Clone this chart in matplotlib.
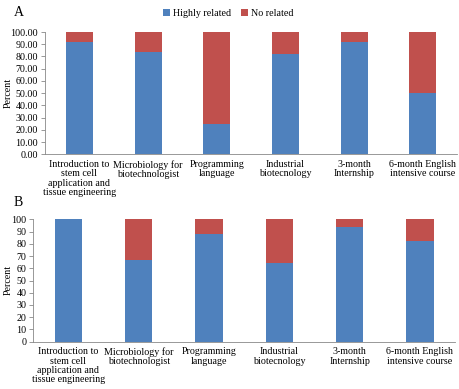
import numpy as np
import matplotlib
matplotlib.use('Agg')
import matplotlib.pyplot as plt

plt.rcParams['font.family'] = ['Liberation Serif', 'DejaVu Serif']

categories = ['Introduction to\nstem cell\napplication and\ntissue engineering',
              'Microbiology for\nbiotechnologist',
              'Programming\nlanguage',
              'Industrial\nbiotecnology',
              '3-month\nInternship',
              '6-month English\nintensive course']

# panel A values (percent)
high_a = [91.67, 83.33, 25.00, 81.82, 91.67, 50.00]
no_a = [8.33, 16.67, 75.00, 18.18, 8.33, 50.00]

# panel B values (percent)
high_b = [100.0, 66.7, 88.2, 64.7, 94.1, 82.4]
no_b = [0.0, 33.3, 11.8, 35.3, 5.9, 17.6]

blue = '#4F81BD'
red = '#C0504D'
fs = 7.2

fig = plt.figure(figsize=(4.6, 3.89), dpi=100)
ax1 = fig.add_axes([0.098, 0.6033, 0.896, 0.3144])
ax2 = fig.add_axes([0.0724, 0.1216, 0.9167, 0.3146])


def draw(ax, high, no, fmt):
    x = np.arange(len(categories))
    ax.bar(x, high, width=0.39, color=blue, label='Highly related')
    ax.bar(x, no, width=0.39, bottom=high, color=red, label='No related')
    ax.set_xlim(-0.5, len(categories) - 0.5)
    ax.set_ylim(0, 100)
    ax.set_yticks(np.arange(0, 101, 10))
    ax.set_yticklabels([fmt % v for v in np.arange(0, 101, 10)], fontsize=fs)
    ax.set_xticks(x)
    ax.set_xticklabels(categories, fontsize=fs, linespacing=1.05)
    ax.tick_params(axis='x', length=0, pad=4)
    ax.tick_params(axis='y', length=3, width=0.6, color='#888888', pad=2)
    for s in ['top', 'right']:
        ax.spines[s].set_visible(False)
    for s in ['left', 'bottom']:
        ax.spines[s].set_color('#888888')
        ax.spines[s].set_linewidth(0.6)


draw(ax1, high_a, no_a, '%.2f')
draw(ax2, high_b, no_b, '%d')

fig.text(8 / 460, 1 - 93 / 389, 'Percent', fontsize=fs, rotation=90, ha='center', va='center')
fig.text(8 / 460, 1 - 280 / 389, 'Percent', fontsize=fs, rotation=90, ha='center', va='center')

h, l = ax1.get_legend_handles_labels()
fig.legend(h, l, loc='center', bbox_to_anchor=(228 / 460, 1 - 13 / 389), ncol=2, frameon=False,
           fontsize=fs, handlelength=0.7, handleheight=0.7, handletextpad=0.3,
           columnspacing=1.0, borderaxespad=0)

fig.text(14 / 460, 1 - 13 / 389, 'A', fontsize=10, va='center')
fig.text(14 / 460, 1 - 202 / 389, 'B', fontsize=10, va='center')

fig.savefig('out.png', dpi=100)
